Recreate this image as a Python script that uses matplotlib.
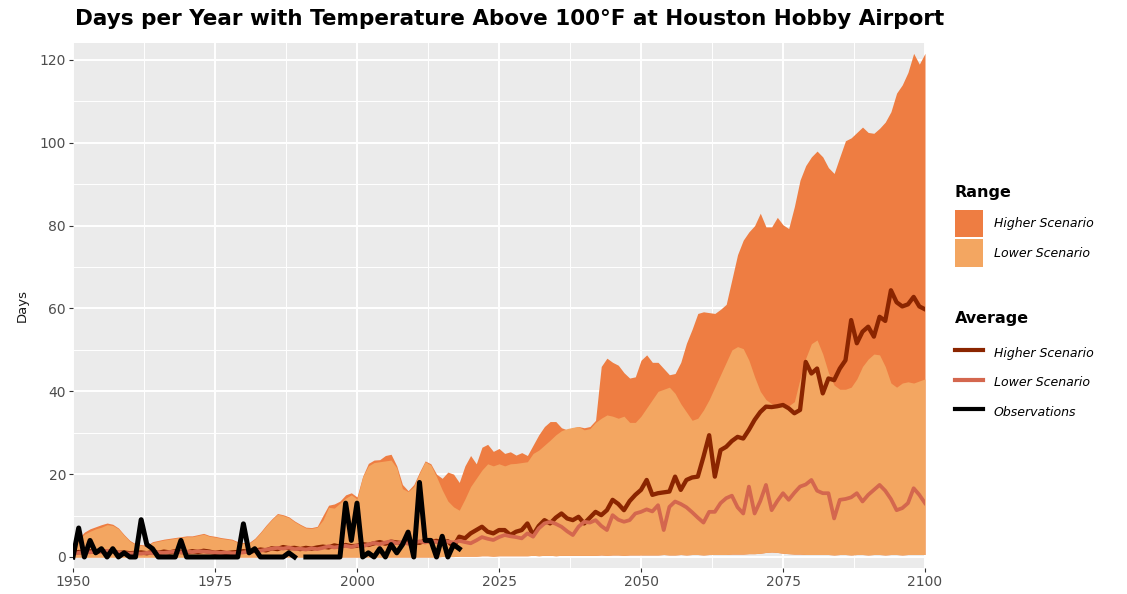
"""
    Days per year above 100F at Houston Hobby Airport
"""

import matplotlib
matplotlib.use('Agg')
import matplotlib.pyplot as plt
from matplotlib.patches import Patch
from matplotlib.lines import Line2D
import numpy as np

plt.rcParams['font.family'] = ['DejaVu Sans']

years = np.arange(1950, 2101)

# upper edge of the model range, higher scenario (1950..2100)
hi_upper = [
    3.0, 4.5, 6.0, 6.8, 7.3, 7.8, 8.2, 7.9, 7.0, 5.4,
    4.0, 3.2, 3.0, 2.8, 3.7, 4.0, 4.3, 4.5, 4.7, 4.9,
    5.1, 5.1, 5.4, 5.7, 5.2, 5.0, 4.7, 4.5, 4.3, 3.7,
    3.5, 3.5, 4.5, 6.0, 7.7, 9.2, 10.5, 10.2, 9.7, 8.7,
    7.9, 7.2, 7.1, 7.4, 10.0, 12.5, 12.8, 13.5, 15.0, 15.5,
    14.5, 19.5, 22.6, 23.4, 23.5, 24.5, 24.8, 22.0, 17.5, 16.0,
    17.5, 20.5, 23.2, 22.5, 20.0, 19.0, 20.5, 20.0, 18.0, 22.0,
    24.5, 22.5, 26.5, 27.2, 25.5, 26.2, 25.0, 25.4, 24.6, 25.2,
    24.5, 27.0, 29.5, 31.5, 32.7, 32.7, 31.2, 30.7, 31.2, 31.5,
    31.2, 31.5, 33.0, 46.0, 48.0, 47.0, 46.3, 44.5, 43.2, 43.5,
    47.5, 48.8, 47.0, 47.0, 45.5, 44.0, 44.3, 47.0, 51.6, 55.0,
    58.8, 59.2, 59.0, 58.8, 59.8, 61.0, 67.0, 73.0, 76.5, 78.5,
    80.0, 83.0, 79.7, 79.7, 82.0, 80.2, 79.3, 84.6, 91.0, 94.5,
    96.6, 98.0, 96.6, 94.0, 92.6, 96.6, 100.5, 101.2, 102.5, 103.8,
    102.5, 102.3, 103.5, 105.0, 107.5, 112.0, 114.0, 117.0, 121.6, 119.0,
    121.6,
]

# upper edge of the model range, lower scenario
lo_upper = [
    2.5, 4.0, 5.5, 6.2, 6.8, 7.2, 7.8, 7.6, 6.8, 5.2,
    3.8, 3.0, 2.8, 2.6, 3.5, 3.8, 4.1, 4.3, 4.5, 4.7,
    4.9, 4.9, 5.2, 5.5, 5.0, 4.8, 4.5, 4.3, 4.1, 3.5,
    3.3, 3.3, 4.3, 5.8, 7.5, 9.0, 10.3, 10.0, 9.5, 8.5,
    7.7, 7.0, 6.9, 7.2, 8.9, 12.0, 11.8, 13.0, 14.2, 15.0,
    14.0, 19.4, 22.0, 22.8, 23.0, 23.2, 23.4, 21.5, 16.5, 15.8,
    17.0, 20.2, 23.0, 22.2, 19.4, 16.2, 13.5, 12.1, 11.3, 14.0,
    17.0, 19.0, 21.0, 22.5, 22.0, 22.5, 22.0, 22.5, 22.6, 22.8,
    23.0, 25.0, 25.8, 27.0, 28.2, 29.5, 30.5, 31.0, 31.3, 31.5,
    30.7, 31.0, 32.5, 33.5, 34.3, 34.0, 33.5, 34.0, 32.5, 32.5,
    34.0, 36.0, 38.0, 40.0, 40.5, 41.0, 39.5, 37.0, 35.0, 33.0,
    33.5, 35.5, 38.0, 41.0, 44.0, 47.0, 50.0, 50.8, 50.3, 47.5,
    43.5, 40.0, 38.0, 37.0, 36.5, 36.5, 36.5, 37.5, 43.0, 48.0,
    51.5, 52.4, 49.0, 44.5, 41.5, 40.5, 40.5, 41.0, 43.0, 46.0,
    47.8, 49.0, 48.8, 46.0, 42.0, 41.0, 42.0, 42.3, 42.0, 42.5,
    43.0,
]

# lower edge of both ranges
range_low = [
    0.0, 0.0, 0.0, 0.0, 0.0, 0.0, 0.0, 0.0, 0.0, 0.0,
    0.0, 0.0, 0.0, 0.0, 0.0, 0.0, 0.0, 0.0, 0.0, 0.0,
    0.0, 0.0, 0.0, 0.0, 0.0, 0.0, 0.0, 0.0, 0.0, 0.0,
    0.0, 0.0, 0.0, 0.0, 0.0, 0.0, 0.0, 0.0, 0.0, 0.0,
    0.0, 0.0, 0.0, 0.0, 0.0, 0.0, 0.0, 0.0, 0.0, 0.0,
    0.0, 0.0, 0.0, 0.0, 0.0, 0.0, 0.0, 0.0, 0.0, 0.0,
    0.0, 0.0, 0.0, 0.0, 0.0, 0.1, 0.1, 0.1, 0.2, 0.2,
    0.2, 0.2, 0.3, 0.3, 0.2, 0.3, 0.3, 0.3, 0.3, 0.3,
    0.3, 0.4, 0.3, 0.4, 0.4, 0.3, 0.4, 0.4, 0.4, 0.4,
    0.4, 0.4, 0.4, 0.5, 0.4, 0.5, 0.5, 0.4, 0.5, 0.5,
    0.5, 0.5, 0.5, 0.5, 0.6, 0.5, 0.5, 0.6, 0.5, 0.6,
    0.6, 0.5, 0.6, 0.6, 0.6, 0.6, 0.7, 0.7, 0.7, 0.8,
    0.8, 0.9, 1.1, 1.2, 1.1, 0.9, 0.8, 0.7, 0.7, 0.6,
    0.6, 0.6, 0.6, 0.6, 0.5, 0.6, 0.6, 0.5, 0.6, 0.6,
    0.5, 0.6, 0.6, 0.5, 0.6, 0.6, 0.5, 0.6, 0.6, 0.6,
    0.6,
]

# ensemble averages
hi_avg = [
    1.0, 1.2, 1.1, 1.4, 1.2, 1.5, 1.3, 1.4, 1.0, 1.1,
    0.9, 1.0, 1.1, 0.9, 1.2, 1.0, 1.3, 1.1, 1.4, 1.2,
    1.1, 1.4, 1.2, 1.5, 1.3, 1.0, 1.2, 0.9, 1.1, 1.2,
    1.4, 1.2, 1.5, 1.8, 1.6, 2.1, 1.9, 2.4, 2.1, 2.2,
    1.9, 2.2, 2.0, 2.3, 2.5, 2.3, 2.8, 2.5, 2.9, 2.6,
    2.7, 3.1, 2.9, 3.3, 3.6, 3.2, 3.7, 3.5, 3.3, 3.8,
    3.6, 3.4, 4.0, 3.7, 3.9, 3.5, 3.8, 2.5, 4.9, 4.5,
    5.7, 6.5, 7.3, 6.1, 5.7, 6.5, 6.5, 5.3, 6.1, 6.5,
    8.1, 5.3, 7.5, 8.9, 8.1, 9.5, 10.5, 9.3, 8.9, 9.7,
    8.1, 9.5, 10.9, 10.1, 11.3, 13.8, 12.8, 11.3, 13.5, 15.0,
    16.2, 18.6, 15.0, 15.4, 15.6, 15.8, 19.4, 16.2, 18.6, 19.2,
    19.4, 24.2, 29.4, 19.4, 25.8, 26.6, 28.0, 29.0, 28.6, 30.7,
    33.1, 35.0, 36.3, 36.2, 36.4, 36.7, 35.9, 34.7, 35.5, 47.1,
    44.3, 45.5, 39.5, 43.1, 42.7, 45.5, 47.5, 57.2, 51.6, 54.4,
    55.6, 53.2, 58.0, 57.0, 64.4, 61.5, 60.5, 61.0, 62.8, 60.5,
    59.8,
]

lo_avg = [
    0.8, 1.0, 1.3, 1.1, 1.4, 1.2, 1.5, 1.3, 1.1, 0.9,
    0.8, 0.9, 0.8, 1.0, 0.9, 1.1, 1.0, 1.2, 1.3, 1.1,
    1.3, 1.2, 1.4, 1.3, 1.2, 1.1, 1.0, 1.1, 0.9, 1.0,
    1.1, 1.3, 1.6, 1.5, 1.8, 2.0, 2.2, 2.0, 2.3, 1.9,
    2.0, 1.8, 2.1, 1.9, 2.2, 2.6, 2.3, 2.5, 2.7, 2.4,
    2.8, 2.6, 3.0, 3.4, 3.1, 3.5, 3.8, 3.3, 3.6, 3.2,
    3.4, 3.8, 3.5, 3.9, 3.6, 3.3, 3.7, 3.5, 3.9, 3.6,
    3.3, 4.0, 4.8, 4.4, 4.1, 4.8, 5.3, 5.0, 4.8, 4.5,
    5.7, 4.9, 6.9, 8.1, 8.5, 8.0, 7.3, 6.2, 5.3, 7.3,
    8.5, 8.3, 8.9, 7.5, 6.5, 10.1, 9.0, 8.5, 8.9, 10.5,
    10.9, 11.5, 11.0, 12.5, 6.5, 12.1, 13.4, 12.8, 12.0, 10.8,
    9.5, 8.3, 10.9, 10.9, 13.0, 14.2, 14.8, 12.0, 10.5, 17.0,
    10.5, 13.5, 17.4, 11.3, 13.5, 15.4, 13.8, 15.5, 17.0, 17.5,
    18.6, 16.0, 15.4, 15.4, 9.3, 13.8, 14.0, 14.4, 15.4, 13.4,
    15.0, 16.2, 17.4, 16.0, 14.0, 11.3, 11.8, 13.0, 16.6, 15.0,
    13.0,
]

# observed days, 1950..2018 (1990 missing)
obs_years = np.arange(1950, 2019)
obs = [
    0, 7, 0, 4, 1, 2, 0, 2, 0, 1,
    0, 0, 9, 3, 2, 0, 0, 0, 0, 4,
    0, 0, 0, 0, 0, 0, 0, 0, 0, 0,
    8, 1, 2, 0, 0, 0, 0, 0, 1, 0,
    np.nan, 0, 0, 0, 0, 0, 0, 0, 13, 4,
    13, 0, 1, 0, 2, 0, 3, 1, 3, 6,
    0, 18, 4, 4, 0, 5, 0, 3, 2,
]

C_HI = '#EE7D42'
C_LO = '#F3A661'
C_HI_LINE = '#8B2500'
C_LO_LINE = '#D4674E'

W, H = 1127, 594
fig = plt.figure(figsize=(W / 100, H / 100), dpi=100)
ax = fig.add_axes([73 / W, 1 - 568 / H, (925 - 73) / W, (568 - 43) / H])
ax.set_facecolor('#EBEBEB')

ax.fill_between(years, range_low, hi_upper, color=C_HI, lw=0)
ax.fill_between(years, range_low, lo_upper, color=C_LO, lw=0)
ax.plot(years, hi_avg, color=C_HI_LINE, lw=3.1, solid_joinstyle='round')
ax.plot(years, lo_avg, color=C_LO_LINE, lw=2.7, solid_joinstyle='round')
ax.plot(obs_years, obs, color='black', lw=3.6, solid_joinstyle='round')

ax.set_xlim(1950, 2100)
ax.set_ylim(-2.66, 124.1)
ax.set_xticks(range(1950, 2101, 25))
ax.set_yticks(range(0, 121, 20))
ax.set_xticks(np.arange(1962.5, 2100, 25), minor=True)
ax.set_yticks(range(10, 121, 20), minor=True)
ax.grid(which='major', color='white', lw=1.4)
ax.grid(which='minor', color='white', lw=0.7)
ax.set_axisbelow(True)
for s in ax.spines.values():
    s.set_visible(False)
ax.tick_params(which='major', length=3, color='#333333', labelsize=10,
               labelcolor='#4D4D4D', pad=2)
ax.tick_params(which='minor', length=0)

fig.text(75 / W, 1 - 9 / H,
         'Days per Year with Temperature Above 100\u00b0F at Houston Hobby Airport',
         fontsize=15.5, fontweight='bold', va='top', ha='left')
fig.text(22 / W, 1 - 306 / H, 'Days', rotation=90, fontsize=9.5,
         va='center', ha='center', color='#1A1A1A')

# legend titles
fig.text(955 / W, 1 - 192 / H, 'Range', fontsize=11.5, fontweight='bold',
         va='center', ha='left')
fig.text(955 / W, 1 - 318 / H, 'Average', fontsize=11.5, fontweight='bold',
         va='center', ha='left')

leg_kw = dict(loc='upper left', frameon=False, borderpad=0, borderaxespad=0,
              prop={'style': 'italic', 'size': 9}, handlelength=2.2,
              handletextpad=0.9)

fig.legend(handles=[Patch(facecolor=C_HI, edgecolor='none'),
                    Patch(facecolor=C_LO, edgecolor='none')],
           labels=['Higher Scenario', 'Lower Scenario'],
           bbox_to_anchor=(955 / W, 1 - 210 / H), handleheight=3.0,
           labelspacing=0.15, **leg_kw)

fig.legend(handles=[Line2D([], [], color=C_HI_LINE, lw=3),
                    Line2D([], [], color=C_LO_LINE, lw=3),
                    Line2D([], [], color='black', lw=3)],
           labels=['Higher Scenario', 'Lower Scenario', 'Observations'],
           bbox_to_anchor=(955 / W, 1 - 343 / H),
           handleheight=2.0, labelspacing=0.83, **leg_kw)

fig.savefig('out.png', dpi=100)
